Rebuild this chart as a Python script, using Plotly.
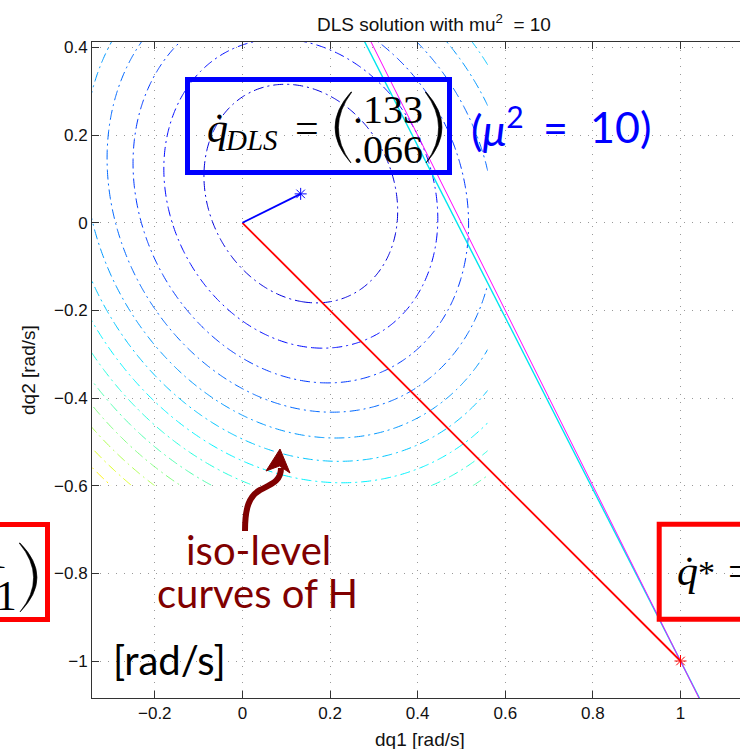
import numpy as np
import plotly.graph_objects as go

# ---------------- data ----------------
J = [2.0, 1.0]            # task Jacobian row
xdot = 1.0                # desired task velocity
mu2 = 10.0                # damping factor mu^2
J_cyan = [1.96, 1.0]      # second (linearised) constraint line
xdot_cyan = 0.96
q_star = [1.0, -1.0]      # particular solution
q_dls = [0.133, 0.066]    # DLS solution
origin = [0.0, 0.0]
H_level_step = 2.0 / 3.0
H_level_range = [0.0, 15.333]   # contour level span used for the jet colour mapping
grid_q1 = [-0.6, 0.56]
grid_q2 = [-0.6, 0.6]
line_q1 = [0.15, 1.2]
x_ticks = [-0.2, 0, 0.2, 0.4, 0.6, 0.8, 1.0]
x_ticktext = ["\u22120.2", "0", "0.2", "0.4", "0.6", "0.8", "1"]
y_ticks = [-1.0, -0.8, -0.6, -0.4, -0.2, 0, 0.2, 0.4]
y_ticktext = ["\u22121", "\u22120.8", "\u22120.6", "\u22120.4", "\u22120.2", "0", "0.2", "0.4"]

# ---------------- layout geometry (pixels) ----------------
W, Hh = 740, 749
ML, MR, MT, MB = 92, 0, 42, 51
PW, PH = W - ML - MR, Hh - MT - MB


def px(x):
    return (x - ML) / PW


def py(y):
    return (Hh - MB - y) / PH


def path(pts, close=False):
    s = "M %f,%f" % (px(pts[0][0]), py(pts[0][1]))
    for p in pts[1:]:
        s += " L %f,%f" % (px(p[0]), py(p[1]))
    if close:
        s += " Z"
    return s


def qpath(seg):
    s = ""
    for cmd, pts in seg:
        s += " " + cmd + " " + " ".join("%f,%f" % (px(a), py(b)) for a, b in pts)
    return s.strip()


# ---------------- contour field H ----------------
q1 = np.linspace(grid_q1[0], grid_q1[1], 233)
q2 = np.linspace(grid_q2[0], grid_q2[1], 241)
Q1, Q2 = np.meshgrid(q1, q2)
Hval = (J[0] * Q1 + J[1] * Q2 - xdot) ** 2 + mu2 * (Q1 ** 2 + Q2 ** 2)

jet = [[0.0, "rgb(0,0,128)"], [0.125, "rgb(0,0,255)"], [0.375, "rgb(0,255,255)"],
       [0.625, "rgb(255,255,0)"], [0.875, "rgb(255,0,0)"], [1.0, "rgb(128,0,0)"]]

fig = go.Figure()
fig.add_trace(go.Contour(
    x=q1, y=q2, z=Hval,
    contours=dict(start=H_level_range[0], end=H_level_range[1] + 0.001,
                  size=H_level_step, coloring="lines"),
    colorscale=jet, zauto=False, zmin=H_level_range[0], zmax=H_level_range[1],
    line=dict(width=1, dash="10px,4px,2px,4px"),
    showscale=False, hoverinfo="skip"))

# constraint lines
lq1 = np.array(line_q1)
fig.add_trace(go.Scatter(x=lq1, y=(xdot_cyan - J_cyan[0] * lq1) / J_cyan[1], mode="lines",
                         line=dict(color="#00e5ee", width=1.4), hoverinfo="skip"))
fig.add_trace(go.Scatter(x=lq1, y=(xdot - J[0] * lq1) / J[1], mode="lines",
                         line=dict(color="#ff00ff", width=1), hoverinfo="skip"))

# solution vectors
fig.add_trace(go.Scatter(x=[origin[0], q_star[0]], y=[origin[1], q_star[1]], mode="lines",
                         line=dict(color="#ff0000", width=1.8), hoverinfo="skip"))
fig.add_trace(go.Scatter(x=[q_star[0]], y=[q_star[1]], mode="markers",
                         marker=dict(symbol="asterisk-open", size=10, color="#ff0000",
                                     line=dict(color="#ff0000", width=1)), hoverinfo="skip"))
fig.add_trace(go.Scatter(x=[origin[0], q_dls[0]], y=[origin[1], q_dls[1]], mode="lines",
                         line=dict(color="#0000ff", width=1.8), hoverinfo="skip"))
fig.add_trace(go.Scatter(x=[q_dls[0]], y=[q_dls[1]], mode="markers",
                         marker=dict(symbol="asterisk-open", size=10, color="#0000ff",
                                     line=dict(color="#0000ff", width=1)), hoverinfo="skip"))

# ---------------- axes ----------------
x_left = (ML - 242.4) / 438.1
x_right = (W - 242.4) / 438.1
y_top = (222.8 - MT) / 438.2
y_bot = (222.8 - (Hh - MB)) / 438.2

tickfont = dict(family="Liberation Sans, Arial, sans-serif", size=17, color="#111")
fig.update_xaxes(range=[x_left, x_right], tickvals=x_ticks, ticktext=x_ticktext,
                 ticks="inside", ticklen=7, tickcolor="#333", tickwidth=1,
                 showline=True, linecolor="#333", linewidth=1, mirror="ticks",
                 showgrid=True, gridcolor="#999", gridwidth=1, griddash="1px,7px",
                 zeroline=False, tickfont=tickfont)
fig.update_yaxes(range=[y_bot, y_top], tickvals=y_ticks, ticktext=y_ticktext,
                 ticks="inside", ticklen=7, tickcolor="#333", tickwidth=1,
                 showline=True, linecolor="#333", linewidth=1, mirror=False,
                 showgrid=True, gridcolor="#999", gridwidth=1, griddash="1px,7px",
                 zeroline=False, tickfont=tickfont)

serif = "Liberation Serif, Times New Roman, serif"
sans = "Lato, Open Sans, sans-serif"
hel = "Liberation Sans, Arial, sans-serif"

ann = []


def A(text, x, y, size, color="#000", family=serif, xanchor="center", yanchor="middle", angle=0):
    ann.append(dict(text=text, x=px(x), y=py(y), xref="paper", yref="paper",
                    xanchor=xanchor, yanchor=yanchor, showarrow=False, textangle=angle,
                    font=dict(family=family, size=size, color=color)))


# titles
A("DLS solution with mu<sup>2</sup>  = 10", 434, 23, 19, "#111", hel)
A("dq1 [rad/s]", 420, 739, 19, "#111", hel)
A("dq2 [rad/s]", 28, 370, 19, "#111", hel, angle=-90)

# blue box content
A("<i>q\u0307</i>", 205, 127.8, 42, xanchor="left")
A("<i>DLS</i>", 223, 139.5, 29, xanchor="left")
A("=", 307, 128.4, 42)
A(".133", 388, 109.5, 40)
A(".066", 388, 149.5, 40)
A("(<i>\u03bc</i><sup>2</sup>", 469, 127, 43, "#0000ff", sans, xanchor="left")
A("=", 555.5, 127, 43, "#0000ff", sans)
A("10)", 588, 127, 43, "#0000ff", sans, xanchor="left")

# right red box content
A("<i>q\u0307</i>", 675, 570.8, 42, xanchor="left")
A("*", 706, 572, 34)
A("=", 726, 570.5, 42, xanchor="left")

# left red box content
A("\u22121", 19, 595.8, 42, xanchor="right")
A("1", -3, 553.8, 42)

# iso-level text
A("iso-level", 258, 549.5, 40, "#800000", sans)
A("curves of H", 257.5, 592.5, 40, "#800000", sans)
A("[rad/s]", 111, 659.5, 40, "#000", sans, xanchor="left")

shapes = []
shapes.append(dict(type="rect", xref="paper", yref="paper", x0=px(187.5), x1=px(449.5),
                   y0=py(172.5), y1=py(79.5), line=dict(color="#0000ff", width=5)))
shapes.append(dict(type="rect", xref="paper", yref="paper", x0=px(659.2), x1=px(820),
                   y0=py(619.2), y1=py(524.2), line=dict(color="#ff0000", width=5)))
shapes.append(dict(type="rect", xref="paper", yref="paper", x0=px(-100), x1=px(47.5),
                   y0=py(619.5), y1=py(524.5), line=dict(color="#ff0000", width=5)))


def paren(xe, ytop, ybot, xmid, thick, left=True):
    ym = (ytop + ybot) / 2
    c_out = 2 * xmid - xe
    xin = xmid + thick if left else xmid - thick
    c_in = 2 * xin - xe
    return qpath([("M", [(xe, ytop)]), ("Q", [(c_out, ym), (xe, ybot)]),
                  ("Q", [(c_in, ym), (xe + (0.8 if left else -0.8), ytop)]), ("Z", [])])


for d in [paren(351, 92, 163, 335, 3.2, True), paren(426, 92, 163, 442, 3.2, False),
          paren(20, 543, 612, 37, 3.2, False)]:
    shapes.append(dict(type="path", xref="paper", yref="paper", path=d,
                       fillcolor="#000", line=dict(color="#000", width=0.6)))

# arrow
shaft = qpath([("M", [(245, 531)]), ("C", [(245, 508), (249, 496), (260, 490)]),
               ("C", [(272, 484), (281, 481), (281, 468)])])
shapes.append(dict(type="path", xref="paper", yref="paper", path=shaft,
                   line=dict(color="#800000", width=6)))
head = path([(280, 449), (266, 471), (279.5, 466), (290, 473)], close=True)
shapes.append(dict(type="path", xref="paper", yref="paper", path=head,
                   fillcolor="#800000", line=dict(color="#800000", width=1)))

fig.update_layout(width=W, height=Hh, margin=dict(l=ML, r=MR, t=MT, b=MB),
                  plot_bgcolor="white", paper_bgcolor="white", showlegend=False,
                  annotations=ann, shapes=shapes)

fig.write_html("out.html")
